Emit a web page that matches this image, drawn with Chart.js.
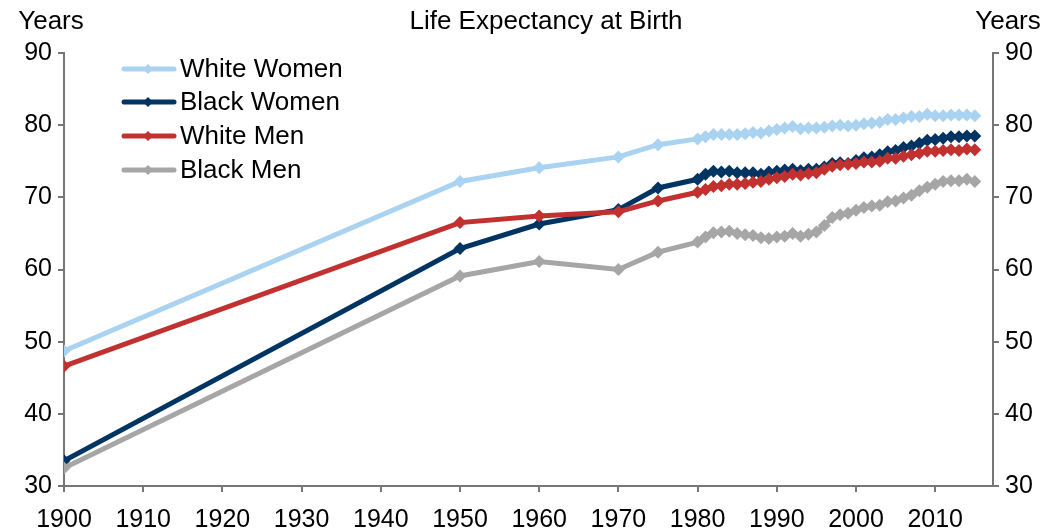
<!DOCTYPE html>
<html>
<head>
<meta charset="utf-8">
<script src="https://cdn.jsdelivr.net/npm/chart.js@4.4.1/dist/chart.umd.min.js"></script>
<style>
  html, body { margin: 0; padding: 0; background: #fff; }
  #wrap { width: 1060px; height: 531px; position: relative; }
</style>
</head>
<body>
<div id="wrap"><canvas id="lifeChart"></canvas></div>
<script>
// ---- data ----
const years = [1900, 1950, 1960, 1970, 1975, 1980,
  1981, 1982, 1983, 1984, 1985, 1986, 1987, 1988, 1989, 1990,
  1991, 1992, 1993, 1994, 1995, 1996, 1997, 1998, 1999, 2000,
  2001, 2002, 2003, 2004, 2005, 2006, 2007, 2008, 2009, 2010,
  2011, 2012, 2013, 2014, 2015];

const whiteWomen = [48.7, 72.2, 74.1, 75.6, 77.3, 78.1,
  78.4, 78.7, 78.7, 78.7, 78.7, 78.8, 79.0, 78.9, 79.2, 79.4,
  79.6, 79.8, 79.5, 79.6, 79.6, 79.7, 79.9, 80.0, 79.9, 80.0,
  80.2, 80.3, 80.4, 80.8, 80.8, 81.0, 81.2, 81.2, 81.5, 81.3,
  81.3, 81.4, 81.4, 81.4, 81.3];

const blackWomen = [33.5, 62.9, 66.3, 68.3, 71.3, 72.5,
  73.2, 73.6, 73.5, 73.6, 73.4, 73.4, 73.4, 73.2, 73.5, 73.6,
  73.8, 73.9, 73.7, 73.9, 73.9, 74.2, 74.7, 74.8, 74.7, 75.1,
  75.5, 75.6, 75.9, 76.3, 76.5, 76.9, 77.1, 77.5, 77.9, 78.0,
  78.2, 78.4, 78.4, 78.5, 78.5];

const whiteMen = [46.6, 66.5, 67.4, 68.0, 69.5, 70.7,
  71.1, 71.5, 71.6, 71.8, 71.8, 71.9, 72.1, 72.2, 72.5, 72.7,
  72.9, 73.2, 73.1, 73.3, 73.4, 73.9, 74.3, 74.5, 74.6, 74.7,
  74.9, 74.9, 75.0, 75.4, 75.4, 75.7, 75.9, 76.1, 76.4, 76.4,
  76.5, 76.6, 76.5, 76.7, 76.6];

const blackMen = [32.5, 59.1, 61.1, 60.0, 62.4, 63.8,
  64.5, 65.1, 65.2, 65.3, 65.0, 64.8, 64.7, 64.4, 64.3, 64.5,
  64.6, 65.0, 64.6, 64.9, 65.2, 66.1, 67.2, 67.6, 67.8, 68.2,
  68.6, 68.8, 68.9, 69.4, 69.5, 69.9, 70.3, 70.9, 71.4, 71.8,
  72.2, 72.3, 72.3, 72.5, 72.2];

const seriesNames = ['White Women', 'Black Women', 'White Men', 'Black Men'];
const seriesColors = ['#aad2f1', '#003462', '#c1312f', '#a6a6a6'];
const xTicks = [1900, 1910, 1920, 1930, 1940, 1950, 1960, 1970, 1980, 1990, 2000, 2010];
const yTicks = [30, 40, 50, 60, 70, 80, 90];

const FONT = 'Liberation Sans, Arial, sans-serif';
const AXIS = '#767676';

function points(vals) {
  return years.map((yr, i) => ({ x: yr, y: vals[i] }));
}

// ---- title, "Years" labels and the legend drawn by hand ----
const decorations = {
  id: 'decorations',
  afterDraw(chart) {
    const ctx = chart.ctx;
    ctx.save();
    ctx.fillStyle = '#000';
    ctx.font = '26px ' + FONT;
    ctx.textBaseline = 'middle';
    ctx.textAlign = 'center';
    ctx.fillText('Life Expectancy at Birth', 546, 22);
    ctx.fillText('Years', 51, 22);
    ctx.fillText('Years', 1008, 22);

    // legend
    const rows = [69, 102, 136, 170];
    ctx.textAlign = 'left';
    seriesNames.forEach((name, i) => {
      const y = rows[i];
      ctx.strokeStyle = seriesColors[i];
      ctx.lineWidth = 5;
      ctx.lineCap = 'round';
      ctx.beginPath();
      ctx.moveTo(124, y);
      ctx.lineTo(174, y);
      ctx.stroke();
      ctx.fillStyle = seriesColors[i];
      ctx.beginPath();
      ctx.moveTo(148, y - 5);
      ctx.lineTo(153, y);
      ctx.lineTo(148, y + 5);
      ctx.lineTo(143, y);
      ctx.closePath();
      ctx.fill();
      ctx.fillStyle = '#000';
      ctx.fillText(name, 180, y + 1);
    });
    ctx.restore();
  }
};

const datasets = [whiteWomen, blackWomen, whiteMen, blackMen].map((vals, i) => ({
  label: seriesNames[i],
  data: points(vals),
  borderColor: seriesColors[i],
  backgroundColor: seriesColors[i],
  borderWidth: 5,
  pointStyle: 'rectRot',
  pointRadius: 6.5,
  pointBorderWidth: 0,
  order: 4 - i,
  yAxisID: 'y'
}));

// empty dataset so the right-hand axis is shown
datasets.push({ label: '', data: [], yAxisID: 'y2', pointRadius: 0 });

const tickFont = { family: FONT, size: 25 };

new Chart(document.getElementById('lifeChart'), {
  type: 'line',
  data: { datasets: datasets },
  options: {
    responsive: true,
    maintainAspectRatio: false,
    animation: false,
    layout: { padding: { top: 53, right: 0, bottom: 0, left: 0 } },
    plugins: {
      legend: { display: false },
      tooltip: { enabled: false }
    },
    scales: {
      x: {
        type: 'linear',
        min: 1900,
        max: 2017.3,
        afterBuildTicks(axis) { axis.ticks = xTicks.map(v => ({ value: v })); },
        afterFit(axis) { axis.height = 45; },
        ticks: {
          color: '#000',
          font: tickFont,
          padding: 13,
          maxRotation: 0,
          autoSkip: false,
          callback: v => String(v)
        },
        grid: { drawOnChartArea: false, drawTicks: true, tickLength: 6, color: AXIS, lineWidth: 2 },
        border: { color: AXIS, width: 2 }
      },
      y: {
        position: 'left',
        min: 30,
        max: 90,
        afterBuildTicks(axis) { axis.ticks = yTicks.map(v => ({ value: v })); },
        afterFit(axis) { axis.width = 64; },
        ticks: { color: '#000', font: tickFont, padding: 6 },
        grid: { drawOnChartArea: false, drawTicks: true, tickLength: 6, color: AXIS, lineWidth: 2 },
        border: { color: AXIS, width: 2 }
      },
      y2: {
        position: 'right',
        min: 30,
        max: 90,
        afterBuildTicks(axis) { axis.ticks = yTicks.map(v => ({ value: v })); },
        afterFit(axis) { axis.width = 67; },
        ticks: { color: '#000', font: tickFont, padding: 6 },
        grid: { drawOnChartArea: false, drawTicks: true, tickLength: 6, color: AXIS, lineWidth: 2 },
        border: { color: AXIS, width: 2 }
      }
    }
  },
  plugins: [decorations]
});
</script>
</body>
</html>
